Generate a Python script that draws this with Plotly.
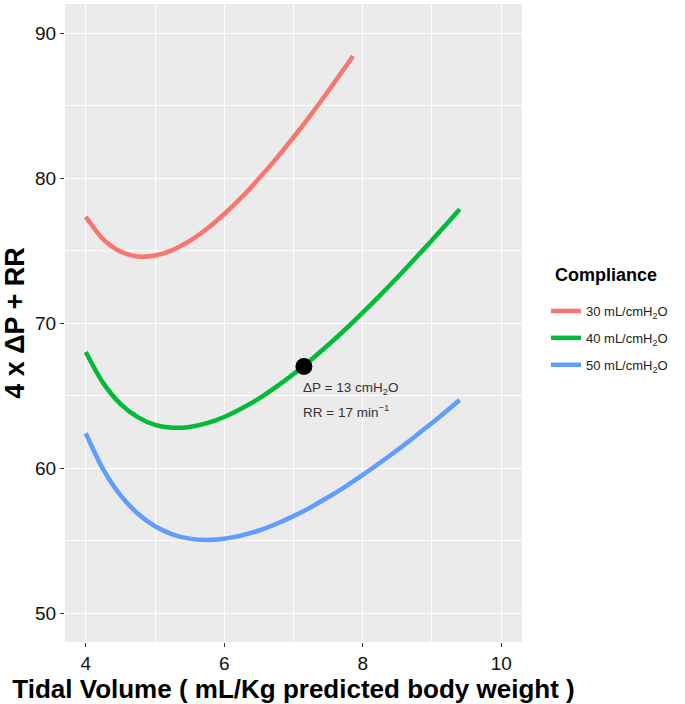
import plotly.graph_objects as go

# Tidal volume (mL/kg PBW) sample points and read values of 4 x dP + RR
vt_30 = [4.0, 4.25, 4.5, 4.75, 5.0, 5.25, 5.5, 5.75, 6.0, 6.25, 6.5, 6.75, 7.0, 7.25, 7.5, 7.75, 7.86]
cost_30 = [77.33, 75.79, 74.93, 74.59, 74.65, 75.03, 75.66, 76.50, 77.52, 78.67, 79.96, 81.34, 82.81, 84.36, 85.98, 87.66, 88.41]

vt_40 = [4.0, 4.25, 4.5, 4.75, 5.0, 5.25, 5.5, 5.75, 6.0, 6.25, 6.5, 6.75, 7.0, 7.25, 7.5, 7.75,
         8.0, 8.25, 8.5, 8.75, 9.0, 9.25, 9.4]
cost_40 = [68.00, 65.87, 64.43, 63.51, 62.98, 62.78, 62.83, 63.09, 63.52, 64.10, 64.79, 65.59, 66.48, 67.45,
           68.48, 69.57, 70.72, 71.91, 73.14, 74.41, 75.71, 77.04, 77.85]

vt_50 = [4.0, 4.25, 4.5, 4.75, 5.0, 5.25, 5.5, 5.75, 6.0, 6.25, 6.5, 6.75, 7.0, 7.25, 7.5, 7.75,
         8.0, 8.25, 8.5, 8.75, 9.0, 9.25, 9.4]
cost_50 = [62.40, 59.92, 58.13, 56.86, 55.98, 55.43, 55.13, 55.04, 55.12, 55.35, 55.69, 56.14, 56.68, 57.30,
           57.98, 58.72, 59.52, 60.36, 61.24, 62.16, 63.11, 64.09, 64.69]

series_names = ["30 mL/cmH<sub>2</sub>O", "40 mL/cmH<sub>2</sub>O", "50 mL/cmH<sub>2</sub>O"]
series_colors = ["#F8766D", "#00BA38", "#619CFF"]
legend_title = "Compliance"

point_vt = [7.15]
point_cost = [67.0]
label_lines = ["ΔP = 13 cmH<sub>2</sub>O", "RR = 17 min<sup>−1</sup>"]

x_ticks = [4, 6, 8, 10]
y_ticks = [50, 60, 70, 80, 90]

FONT = "Liberation Sans, Arial, Helvetica, sans-serif"

fig = go.Figure()
for i, (xs, ys, name, col) in enumerate(zip([vt_30, vt_40, vt_50], [cost_30, cost_40, cost_50],
                                            series_names, series_colors)):
    fig.add_trace(go.Scatter(x=xs, y=ys, mode="lines", name=name, legendgroup=f"g{i}",
                             line=dict(color=col, width=4.5, shape="spline", smoothing=0.8)))

fig.add_trace(go.Scatter(x=point_vt, y=point_cost, mode="markers", showlegend=False,
                         marker=dict(color="black", size=17)))

for k, line in enumerate(label_lines):
    fig.add_annotation(x=point_vt[0], y=point_cost[0], xref="x", yref="y",
                       text=line, showarrow=False, xanchor="left", yanchor="middle",
                       align="left", xshift=-3, yshift=-22 - 22 * k,
                       font=dict(family=FONT, size=13.5, color="#333333"))

# legend title placed as a paper-anchored label
fig.add_annotation(x=1.068, y=0.5752, xref="paper", yref="paper", text=f"<b>{legend_title}</b>",
                   showarrow=False, xanchor="left", yanchor="middle",
                   font=dict(family=FONT, size=18, color="black"))

axis_common = dict(showgrid=True, gridcolor="white", gridwidth=1.3,
                   zeroline=False, showline=False, automargin=False,
                   ticks="outside", ticklen=4, tickwidth=1.2, tickcolor="#333333",
                   tickfont=dict(family=FONT, size=19, color="#111111"))

fig.update_xaxes(range=[3.7, 10.3], tickvals=x_ticks,
                 minor=dict(dtick=1, tick0=0, showgrid=True, gridcolor="white", gridwidth=0.6, ticks=""),
                 title=dict(text="<b>Tidal Volume ( mL/Kg predicted body weight )</b>",
                            font=dict(family=FONT, size=26, color="black"), standoff=0),
                 **axis_common)
fig.update_yaxes(range=[48, 92], tickvals=y_ticks,
                 minor=dict(dtick=5, tick0=0, showgrid=True, gridcolor="white", gridwidth=0.6, ticks=""),
                 title=dict(text="<b>4 x ΔP + RR</b>",
                            font=dict(family=FONT, size=27, color="black"), standoff=3),
                 **axis_common)

fig.update_layout(
    width=685, height=704,
    margin=dict(l=65, r=163, t=4, b=62, autoexpand=False),
    paper_bgcolor="white", plot_bgcolor="#EBEBEB",
    font=dict(family=FONT, color="black"),
    legend=dict(font=dict(family=FONT, size=13, color="#222222"),
                x=1.0525, xanchor="left", y=0.4765, yanchor="middle",
                bgcolor="rgba(0,0,0,0)", itemwidth=30, tracegroupgap=7),
)

fig.write_html("out.html", config={"displayModeBar": False},
               post_script="document.body.style.margin='0';")
